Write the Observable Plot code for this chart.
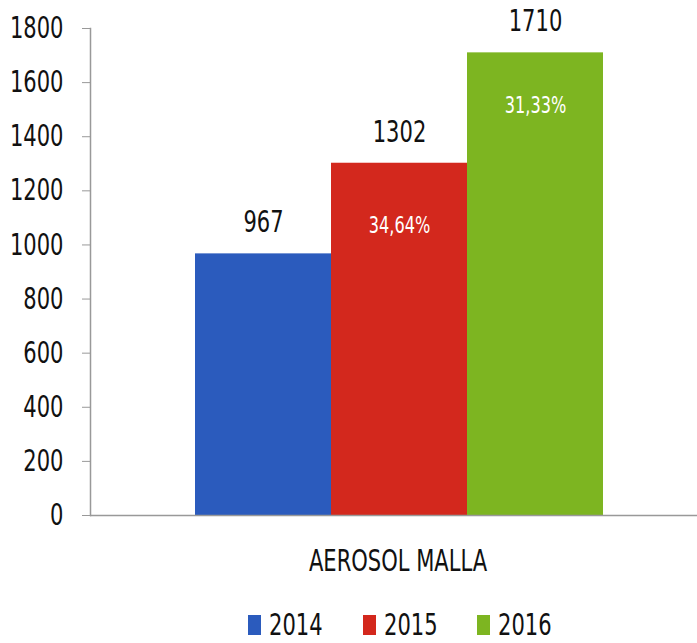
<!DOCTYPE html>
<html>
<head>
<meta charset="utf-8">
<script src="https://cdn.jsdelivr.net/npm/d3@7"></script>
<script src="https://cdn.jsdelivr.net/npm/@observablehq/plot@0.6"></script>
<style>
  html, body { margin: 0; padding: 0; background: #fff; }
  body { width: 697px; font-family: "DejaVu Sans Condensed", "DejaVu Sans", sans-serif; }
  #legend { position: relative; height: 43px; color: #111; font-size: 30px; }
  .item { display: flex; align-items: center; position: absolute; top: 7px; }
  .sw { width: 13px; height: 20px; margin-right: 8px; }
  .lt { display: inline-block; transform: scaleX(0.78); transform-origin: left center; }
</style>
</head>
<body>
<div id="chart"></div>
<div id="legend"></div>
<script>
const category = "AEROSOL MALLA";
const years = ["2014", "2015", "2016"];
const values = [967, 1302, 1710];
const growth = [null, "34,64%", "31,33%"];
const colors = ["#2b5bbd", "#d3281d", "#7db521"];
const yTicks = [0, 200, 400, 600, 800, 1000, 1200, 1400, 1600, 1800];

const data = years.map((y, i) => ({year: y, value: values[i], pct: growth[i]}));
const font = '"DejaVu Sans Condensed", "DejaVu Sans", sans-serif';

const chart = Plot.plot({
  width: 697,
  height: 600,
  marginLeft: 90,
  marginRight: 0,
  marginTop: 28,
  marginBottom: 85,
  style: {fontFamily: font, color: "#111", background: "#fff", overflow: "visible"},
  x: {type: "band", domain: years, range: [195, 603], padding: 0, axis: null},
  y: {domain: [0, 1800], ticks: yTicks, label: null},
  color: {domain: years, range: colors},
  marks: [
    Plot.barY(data, {x: "year", y: "value", fill: "year"}),
    Plot.ruleY([0], {stroke: "#999", strokeWidth: 1.5}),
    Plot.frame({anchor: "left", stroke: "#999", strokeWidth: 1.5}),
    Plot.axisY({ticks: yTicks, tickSize: 8, tickPadding: 19, stroke: "#999", fontSize: 30, fill: "#111", label: null, tickFormat: d => String(d)}),
    Plot.text(data, {x: "year", y: "value", text: d => String(d.value), dy: -31, fontSize: 30, fill: "#111"}),
    Plot.text(data.filter(d => d.year === "2015"), {x: "year", y: "value", text: "pct", dy: 62, fontSize: 23, fill: "#fff"}),
    Plot.text(data.filter(d => d.year === "2016"), {x: "year", y: "value", text: "pct", dy: 53, fontSize: 23, fill: "#fff"}),
    Plot.text([category], {frameAnchor: "bottom", dx: 4, dy: 55, fontSize: 30, fill: "#111"})
  ]
});
document.getElementById("chart").appendChild(chart);

// horizontally condense all texts around their anchor point
d3.select(chart).selectAll("text").each(function() {
  const t = this.getAttribute("transform") || "";
  this.setAttribute("transform", (t + " scale(0.78,1)").trim());
});

const legend = document.getElementById("legend");
const lx = [248, 363, 477];
years.forEach((y, i) => {
  const it = document.createElement("div");
  it.className = "item";
  it.style.left = lx[i] + "px";
  it.innerHTML = `<span class="sw" style="background:${colors[i]}"></span><span class="lt">${y}</span>`;
  legend.appendChild(it);
});
</script>
</body>
</html>
